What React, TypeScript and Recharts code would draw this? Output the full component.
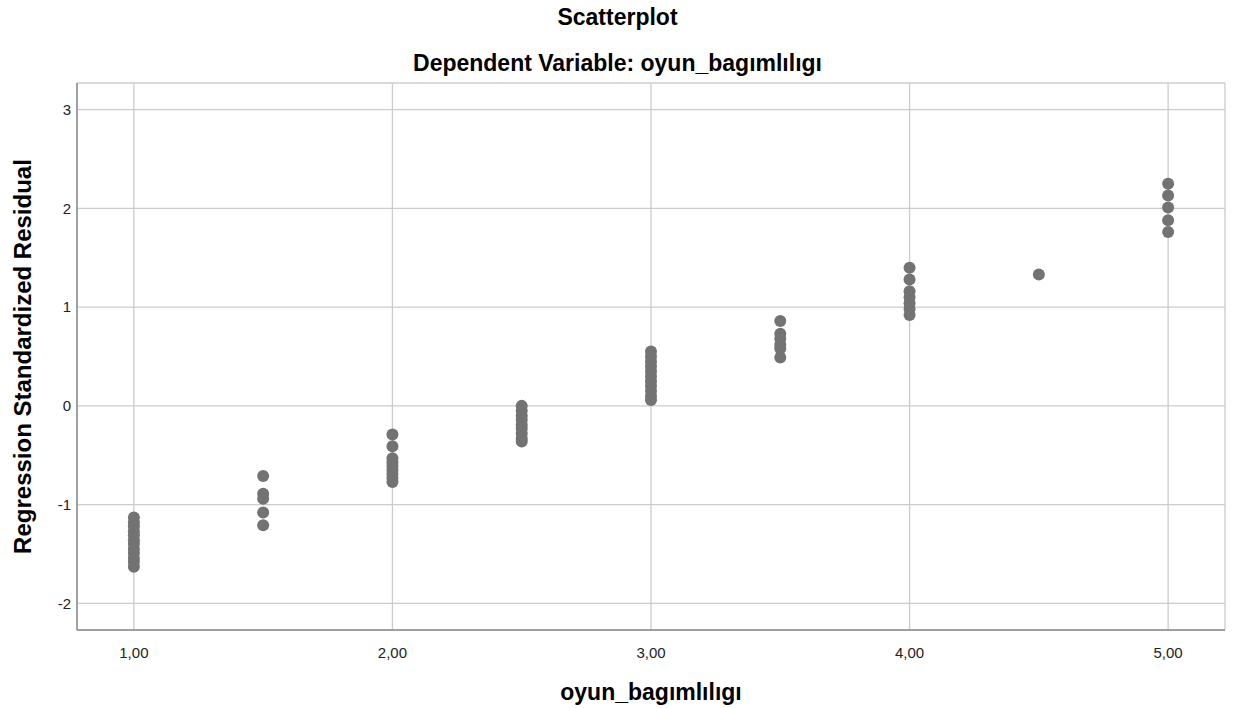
import { ScatterChart, Scatter, XAxis, YAxis, CartesianGrid, Label } from "recharts";

// observed score levels and the standardized residuals at each
const scoreLevels = [1, 1.5, 2, 2.5, 3, 3.5, 4, 4.5, 5];
const residualsAt1 = [-1.13, -1.18, -1.22, -1.27, -1.31, -1.36, -1.4, -1.45, -1.49, -1.54, -1.58, -1.63];
const residualsAt15 = [-0.71, -0.89, -0.94, -1.08, -1.21];
const residualsAt2 = [-0.29, -0.41, -0.53, -0.57, -0.61, -0.65, -0.69, -0.73, -0.77];
const residualsAt25 = [0.0, -0.05, -0.1, -0.14, -0.19, -0.23, -0.28, -0.33, -0.36];
const residualsAt3 = [0.55, 0.5, 0.45, 0.4, 0.35, 0.3, 0.25, 0.2, 0.15, 0.1, 0.06];
const residualsAt35 = [0.86, 0.73, 0.68, 0.62, 0.58, 0.49];
const residualsAt4 = [1.4, 1.28, 1.16, 1.1, 1.04, 0.98, 0.92];
const residualsAt45 = [1.33];
const residualsAt5 = [2.25, 2.13, 2.01, 1.88, 1.76];

const xTicks = [1, 2, 3, 4, 5];
const yTicks = [-2, -1, 0, 1, 2, 3];

const groups = [
  residualsAt1,
  residualsAt15,
  residualsAt2,
  residualsAt25,
  residualsAt3,
  residualsAt35,
  residualsAt4,
  residualsAt45,
  residualsAt5,
];

const points = scoreLevels.flatMap((x, i) => groups[i].map((y) => ({ x, y })));

const font = '"Liberation Sans", Arial, sans-serif';

const Dot = (props: any) => <circle cx={props.cx} cy={props.cy} r={6} fill="#737373" />;

export default function App() {
  return (
    <div style={{ position: "absolute", left: 0, top: 0, width: 1235, height: 708, background: "#fff", fontFamily: font }}>
      <div style={{ position: "absolute", top: 4, width: 1235, textAlign: "center", fontSize: 23, fontWeight: "bold" }}>
        Scatterplot
      </div>
      <div style={{ position: "absolute", top: 50, width: 1235, textAlign: "center", fontSize: 23, fontWeight: "bold" }}>
        Dependent Variable: oyun_bagımlılıgı
      </div>
      <ScatterChart width={1235} height={708} margin={{ top: 83, right: 10, bottom: 0, left: 27 }}>
        <CartesianGrid stroke="#cccccc" strokeWidth={1.3} />
        <XAxis
          type="number"
          dataKey="x"
          domain={[0.78, 5.22]}
          ticks={xTicks}
          tickFormatter={(v: number) => v.toFixed(2).replace(".", ",")}
          height={78}
          tickLine={false}
          tickSize={0}
          tickMargin={17}
          stroke="#8c8c8c"
          strokeWidth={1.5}
          tick={{ fontSize: 15, fill: "#222", fontFamily: font }}
        >
          <Label
            value="oyun_bagımlılıgı"
            position="insideBottom"
            offset={8}
            style={{ fontSize: 23, fontWeight: "bold", fill: "#000", fontFamily: font }}
          />
        </XAxis>
        <YAxis
          type="number"
          dataKey="y"
          domain={[-2.27, 3.27]}
          ticks={yTicks}
          width={50}
          tickLine={false}
          tickSize={0}
          tickMargin={6}
          stroke="#8c8c8c"
          strokeWidth={1.5}
          tick={{ fontSize: 15, fill: "#222", fontFamily: font }}
        >
          <Label
            value="Regression Standardized Residual"
            angle={-90}
            position="insideLeft"
            offset={-5}
            style={{ textAnchor: "middle", fontSize: 24, fontWeight: "bold", fill: "#000", fontFamily: font }}
          />
        </YAxis>
        <Scatter data={points} shape={Dot} isAnimationActive={false} />
      </ScatterChart>
    </div>
  );
}
